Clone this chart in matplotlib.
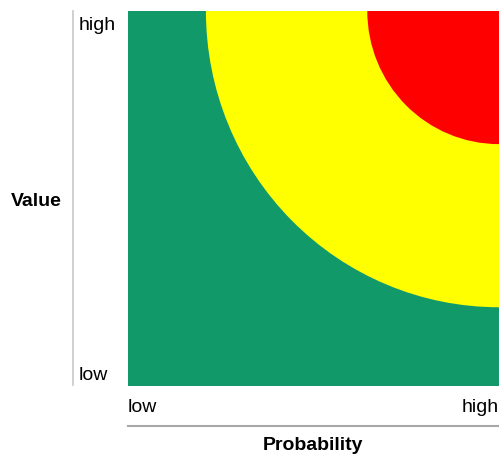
import matplotlib.pyplot as plt
from matplotlib.patches import Wedge, Rectangle

plt.rcParams['font.family'] = ['Liberation Sans', 'DejaVu Sans']

# risk zones: outer radius of each quarter circle from the top-right corner
zones = ['low', 'medium', 'high']
radii = [None, 0.79, 0.355]
colors = ['#11996a', '#ffff00', '#ff0000']
tick_labels = ['low', 'high']

fig = plt.figure(figsize=(4.99, 4.60), dpi=100)
ax = fig.add_axes([128/499, 1 - 387/460, 1 - 128/499, 375/460])
ax.set_xlim(0, 1)
ax.set_ylim(0, 1)
ax.axis('off')

ax.add_patch(Rectangle((0, 0), 1, 1, color=colors[0], lw=0))
for r, c in zip(radii[1:], colors[1:]):
    ax.add_patch(Wedge((1, 1), r, 180, 270, color=c, lw=0))

# axis labels and lines (figure pixel coords)
tr = fig.transFigure
def px(x, y):
    return x / 499, 1 - y / 460

fig.add_artist(plt.Line2D(*zip(px(73, 12), px(73, 386)), transform=tr,
                          color='#c8c8c8', lw=1.2))
fig.add_artist(plt.Line2D(*zip(px(128, 427), px(499, 427)), transform=tr,
                          color='#a8a8a8', lw=1.5))

fig.text(*px(79, 25), tick_labels[1], fontsize=14, va='center', ha='left')
fig.text(*px(79, 376), tick_labels[0], fontsize=14, va='center', ha='left')
fig.text(*px(128, 408), tick_labels[0], fontsize=14, va='center', ha='left')
fig.text(*px(499, 408), tick_labels[1], fontsize=14, va='center', ha='right')
fig.text(*px(36, 201), 'Value', fontsize=14, fontweight='bold', va='center', ha='center')
fig.text(*px(313, 446), 'Probability', fontsize=14, fontweight='bold', va='center', ha='center')

fig.savefig('out.png', dpi=100)
